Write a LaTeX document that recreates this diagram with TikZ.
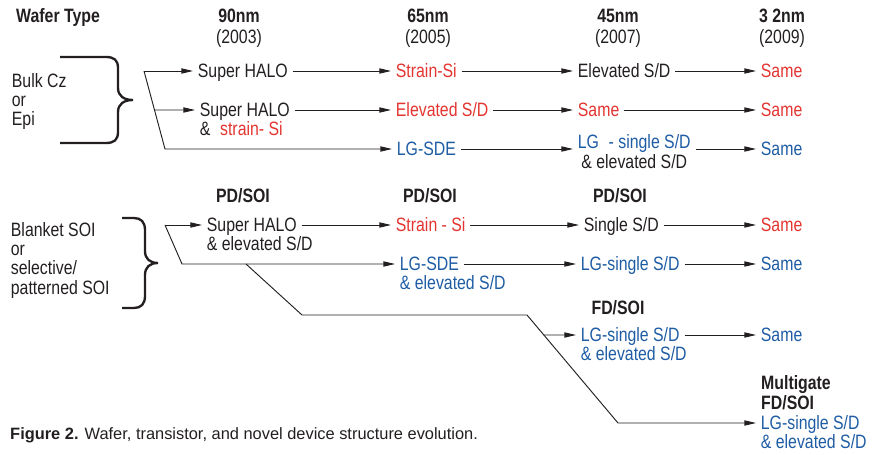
\documentclass[tikz,border=0pt]{standalone}
\usepackage{fontspec}
\setmainfont{Liberation Sans}[FakeStretch=0.82]
\newfontfamily\capfont{Liberation Sans}
\usetikzlibrary{arrows.meta,calc}

\definecolor{ink}{RGB}{35,31,32}
\definecolor{hlred}{RGB}{228,52,48}
\definecolor{hlblue}{RGB}{30,92,164}

% text size of the chart, and stacked lines whose baseline is the top line
\newcommand\chartfont{\fontsize{16.5}{16}\selectfont}
\newcommand\lines[1]{\begin{tabular}[t]{@{}l@{}}#1\end{tabular}}
\newcommand\clines[1]{\begin{tabular}[t]{@{}c@{}}#1\end{tabular}}

\begin{document}
\begin{tikzpicture}[x=0.03cm, y=-0.03cm,
    font=\chartfont,
    lbl/.style={anchor=west, inner sep=4pt, text height=10.8pt, text depth=0pt, text=ink},
    hd/.style={anchor=base, inner sep=0pt, text=ink},
    arr/.style={draw=ink, line width=0.8pt, -{Triangle[length=10pt,width=4.5pt]}},
    brace/.style={draw=ink, line width=2pt}]
  \useasboundingbox (0,0) rectangle (882,455);

  % column heads
  \node [hd, anchor=base west, font=\chartfont\bfseries](wafer) at (16,22.5) {Wafer Type};
  \node [hd](hd90) at (239,22.5) {\clines{\bfseries 90nm\\[1pt](2003)}};
  \node [hd](hd65) at (428,22.5) {\clines{\bfseries 65nm\\[1pt](2005)}};
  \node [hd](hd45) at (618,22.5) {\clines{\bfseries 45nm\\[1pt](2007)}};
  \node [hd](hd32) at (782,22.5) {\clines{\bfseries 3 2nm\\[1pt](2009)}};

  % bulk wafers
  \node [lbl](bulk) at (7,81) {\lines{Bulk Cz\\or\\Epi}};
  \draw [brace] (60,57) -- (106,57) .. controls (114,57) and (118,60) .. (118,68)
    -- (118,88) .. controls (118,96) and (124,100) .. (133,100)
    .. controls (124,100) and (118,104) .. (118,112) -- (118,132)
    .. controls (118,140) and (114,143) .. (106,143) -- (60,143);

  \node [lbl](shA1) at (193,71) {Super HALO};
  \node [lbl, text=hlred](ssA1) at (391,71) {Strain-Si};
  \node [lbl](esdA1) at (573,71) {Elevated S/D};
  \node [lbl, text=hlred](smA1) at (756,71) {Same};

  \node [lbl](shA2) at (195,110) {\lines{Super HALO\\\&\enspace\textcolor{hlred}{strain- Si}}};
  \node [lbl, text=hlred](esdA2) at (391,110) {Elevated S/D};
  \node [lbl, text=hlred](smA2) at (573,110) {Same};
  \node [lbl, text=hlred](smA2b) at (756,110) {Same};

  \node [lbl, text=hlblue](lgsdeA3) at (392,149) {LG-SDE};
  \node [lbl, text depth=10.8pt](lgsA3) at (573,149)
    {\clines{\textcolor{hlblue}{LG\enspace- single S/D}\\\& elevated S/D}};
  \node [lbl, text=hlblue](smA3) at (756,149) {Same};

  \coordinate (fkA) at (144,71);
  \coordinate (knA) at (165,149);
  \draw [arr] (fkA) -- (shA1.west);
  \draw [arr] (intersection of fkA--knA and shA2.west--esdA2.west) -- (shA2.west);
  \draw [arr] (fkA) -- (knA) -- (lgsdeA3.west);

  \draw [arr] (shA1) -- (ssA1);
  \draw [arr] (ssA1) -- (esdA1);
  \draw [arr] (esdA1) -- (smA1);
  \draw [arr] (shA2.east) -- (esdA2.west);
  \draw [arr] (esdA2) -- (smA2);
  \draw [arr] (smA2) -- (smA2b);
  \draw [arr] (lgsdeA3) -- (lgsA3);
  \draw [arr] (lgsA3) -- (smA3);

  % SOI wafers
  \node [lbl](blanket) at (6,230) {\lines{Blanket SOI\\or\\selective/\\patterned SOI}};
  \draw [brace] (122,218) -- (134,218) .. controls (141,218) and (145,222) .. (145,230)
    -- (145,251) .. controls (145,259) and (150,263) .. (158,263)
    .. controls (150,263) and (145,267) .. (145,275) -- (145,296)
    .. controls (145,304) and (141,308) .. (134,308) -- (122,308);

  \node [hd, font=\chartfont\bfseries](pd90) at (243,203) {PD/SOI};
  \node [hd, font=\chartfont\bfseries](pd65) at (430,203) {PD/SOI};
  \node [hd, font=\chartfont\bfseries](pd45) at (620,203) {PD/SOI};
  \node [hd, font=\chartfont\bfseries](fd45) at (618,315) {FD/SOI};
  \node [hd, anchor=base west, font=\chartfont\bfseries](mgate) at (761,390) {\lines{Multigate\\FD/SOI}};

  % second lines in \rlap so the arrows leave from the first line
  \node [lbl](shB1) at (202,225) {\lines{Super HALO\\\rlap{\& elevated S/D}}};
  \node [lbl, text=hlred](ssB1) at (391,225) {Strain - Si};
  \node [lbl](sgB1) at (579,225) {Single S/D};
  \node [lbl, text=hlred](smB1) at (756,225) {Same};

  \node [lbl, text=hlblue](lgsdeB2) at (395,264) {\lines{LG-SDE\\\rlap{\& elevated S/D}}};
  \node [lbl, text=hlblue](lgsB2) at (576,264) {LG-single S/D};
  \node [lbl, text=hlblue](smB2) at (756,264) {Same};

  \node [lbl, text=hlblue](lgsB3) at (576,335) {\lines{LG-single S/D\\\rlap{\& elevated S/D}}};
  \node [lbl, text=hlblue](smB3) at (756,335) {Same};

  \node [lbl, text=hlblue](lgsB4) at (756,423) {\lines{LG-single S/D\\\& elevated S/D}};

  \coordinate (fkB) at (165,225);
  \coordinate (knB) at (182,264);
  \coordinate (dropB1) at (246,264);
  \coordinate (dropB2) at (302,315);
  \coordinate (dropB3) at (527,315);
  \coordinate (dropB4) at (618,423);
  \draw [arr] (fkB) -- (shB1.west);
  \draw [arr] (fkB) -- (knB) -- (lgsdeB2.west);
  \draw [arr] (dropB1) -- (dropB2) -- (dropB3) -- (dropB4) -- (lgsB4.west);
  \draw [arr] (intersection of dropB3--dropB4 and lgsB3.west--smB3.west) -- (lgsB3.west);

  \draw [arr] (shB1.east) -- (ssB1.west);
  \draw [arr] (ssB1) -- (sgB1);
  \draw [arr] (sgB1) -- (smB1);
  \draw [arr] (lgsdeB2.east) -- (lgsB2.west);
  \draw [arr] (lgsB2) -- (smB2);
  \draw [arr] (lgsB3.east) -- (smB3.west);

  \node [anchor=base west, inner sep=0pt, text=ink, font=\capfont\fontsize{14}{16}\selectfont](figcap)
    at (10,440) {\textbf{Figure 2.} Wafer, transistor, and novel device structure evolution.};
\end{tikzpicture}
\end{document}
